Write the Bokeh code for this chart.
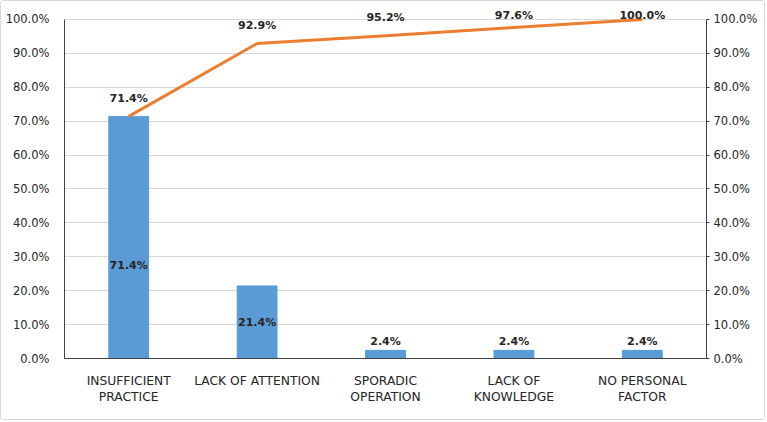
from bokeh.plotting import figure
from bokeh.models import ColumnDataSource, LinearAxis, FixedTicker, Range1d
from bokeh.core.properties import value
from bokeh.embed import file_html
from bokeh.resources import INLINE

# Pareto data: share of each personal factor and cumulative share (%)
categories = ["INSUFFICIENT\nPRACTICE", "LACK OF ATTENTION", "SPORADIC\nOPERATION",
              "LACK OF\nKNOWLEDGE", "NO PERSONAL\nFACTOR"]
shares = [71.4, 21.4, 2.4, 2.4, 2.4]
cumulative = [71.4, 92.9, 95.2, 97.6, 100.0]
y_ticks = [0, 10, 20, 30, 40, 50, 60, 70, 80, 90, 100]

BAR_COLOR = "#5B9BD5"
LINE_COLOR = "#ED7D31"
TEXT_COLOR = "#262626"
FONT = "DejaVu Sans"

xs = [i + 0.5 for i in range(len(categories))]

# Label placement: small bars get their label above the bar, larger ones inside
bar_label_y = [v + 0.6 if v < 5 else min(v / 2, 27.5) for v in shares]
bar_label_base = ["bottom" if v < 5 else "middle" for v in shares]
cum_label_y = [min(c + 5.3, 101.3) for c in cumulative]

src = ColumnDataSource(dict(
    x=xs, share=shares, cum=cumulative,
    share_txt=[f"{v:.1f}%" for v in shares],
    cum_txt=[f"{c:.1f}%" for c in cumulative],
    bar_y=bar_label_y, bar_base=bar_label_base, cum_y=cum_label_y,
))

p = figure(width=765, height=420, output_backend="svg", toolbar_location=None,
           x_range=Range1d(0, len(categories)), y_range=Range1d(0, 105),
           min_border_left=63, min_border_right=60, min_border_top=1, min_border_bottom=63,
           styles={"border": "1px solid #D9D9D9", "border-radius": "3px"})
p.outline_line_color = None
p.background_fill_color = "white"
p.border_fill_color = "white"

# Bars and cumulative line
p.vbar(x="x", top="share", width=0.31, bottom=0, color=BAR_COLOR, source=src)
p.line(x="x", y="cum", line_color=LINE_COLOR, line_width=3, source=src)

p.text(x="x", y="bar_y", text="share_txt", source=src, text_align="center",
       text_baseline="bar_base", text_font_size="11px", text_font_style="bold",
       text_color=TEXT_COLOR, text_font=value(FONT))
p.text(x="x", y="cum_y", text="cum_txt", source=src, text_align="center",
       text_baseline="middle", text_font_size="11px", text_font_style="bold",
       text_color=TEXT_COLOR, text_font=value(FONT))

# Grid
p.xgrid.visible = False
p.ygrid.ticker = FixedTicker(ticks=y_ticks)
p.ygrid.grid_line_color = "#D9D9D9"
p.ygrid.grid_line_width = 1
p.ygrid.bounds = (0, 100)

# Axes
def style_axis(ax, size="11.5px"):
    ax.major_label_text_font = FONT
    ax.major_label_text_font_size = size
    ax.major_label_text_color = TEXT_COLOR
    ax.axis_line_color = "#404040"
    ax.minor_tick_line_color = None

ly = p.yaxis[0]
style_axis(ly)
ly.ticker = FixedTicker(ticks=y_ticks)
ly.major_label_overrides = {t: f"{t:.1f}%" for t in y_ticks}
ly.bounds = (0, 100)
ly.major_tick_line_color = None
ly.major_label_standoff = 9

ry = LinearAxis(ticker=FixedTicker(ticks=y_ticks), bounds=(0, 100))
style_axis(ry)
ry.major_label_overrides = {t: f"{t:.1f}%" for t in y_ticks}
ry.major_tick_out = 3
ry.major_tick_in = 0
ry.major_tick_line_color = "#404040"
ry.major_label_standoff = 4
p.add_layout(ry, "right")

xa = p.xaxis[0]
style_axis(xa, "12.3px")
xa.ticker = FixedTicker(ticks=xs)
xa.major_label_overrides = {x: c for x, c in zip(xs, categories)}
xa.major_tick_line_color = None
xa.major_label_standoff = 9

open("out.html", "w").write(file_html(p, INLINE))
